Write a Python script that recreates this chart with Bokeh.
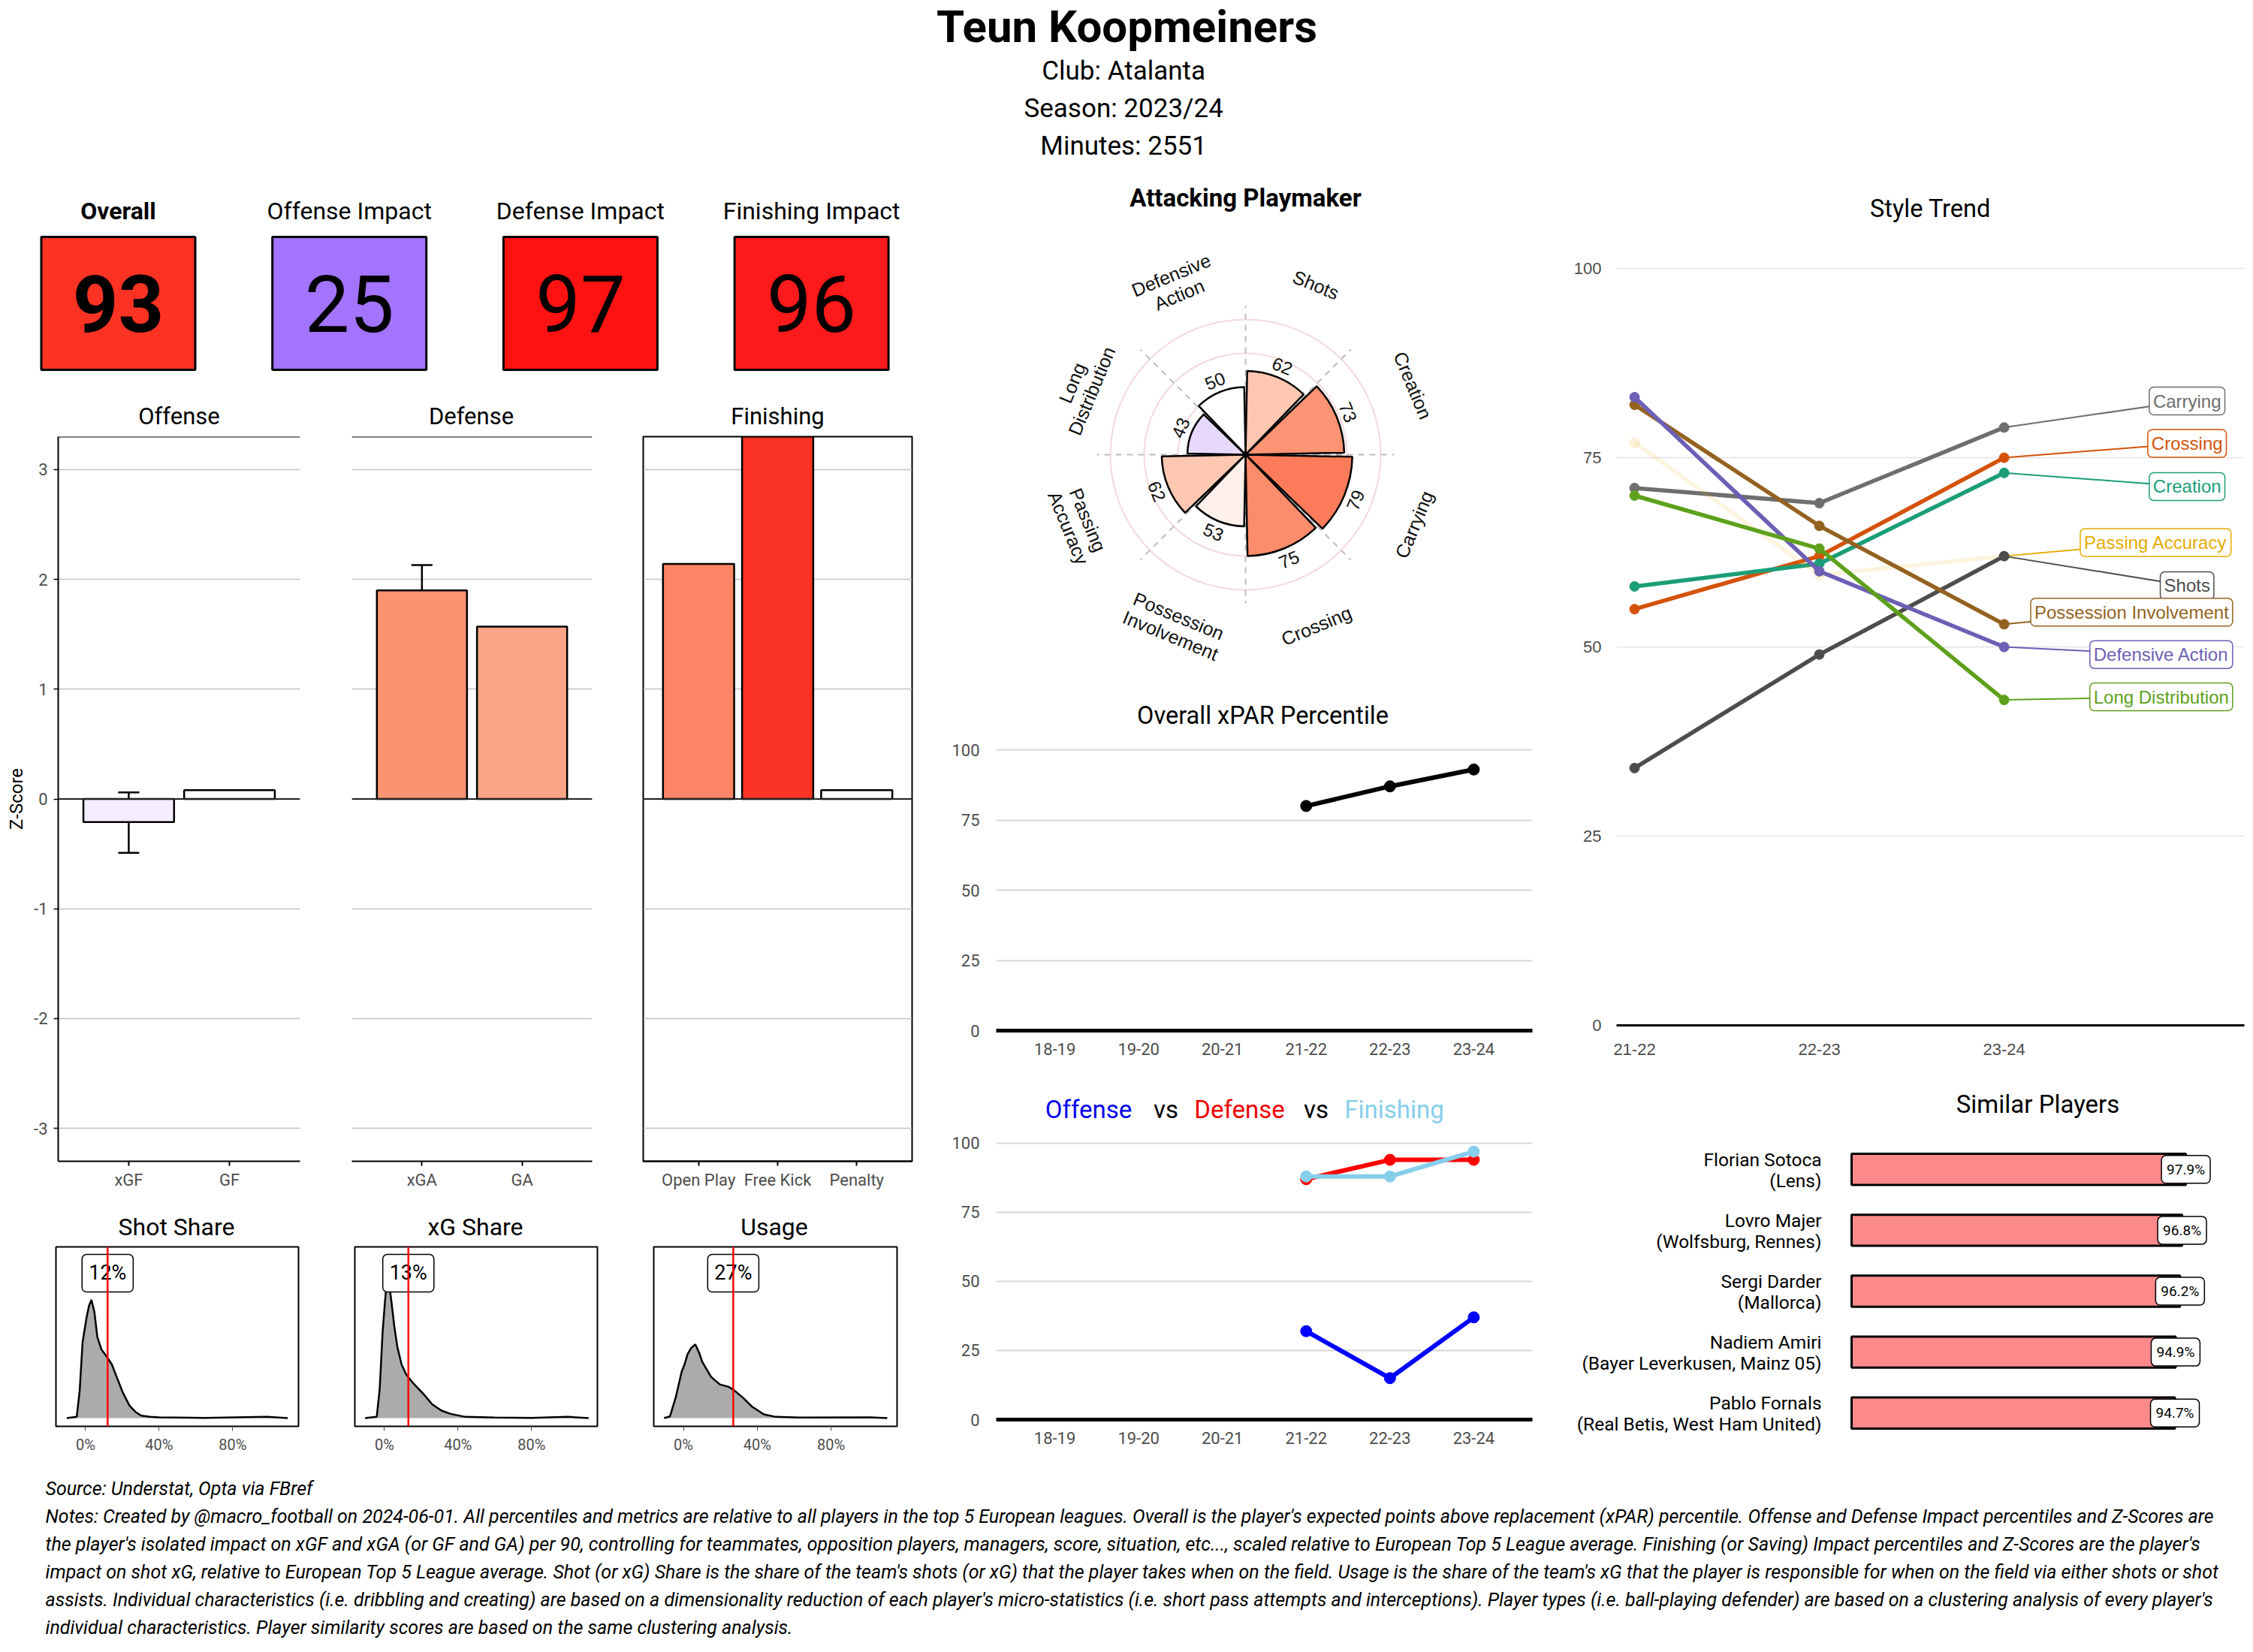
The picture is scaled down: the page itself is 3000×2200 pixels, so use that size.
import math
from bokeh.plotting import figure
from bokeh.models import ColumnDataSource, Range1d, FactorRange, FixedTicker, Span, Whisker, TeeHead
from bokeh.layouts import row, column
from bokeh.core.properties import value
from bokeh.embed import file_html
from bokeh.resources import INLINE

# ---------------- DATA ----------------
player_name = "Teun Koopmeiners"
club_name = "Atalanta"
season_name = "2023/24"
minutes_played = 2551

kpi_labels = ["Overall", "Offense Impact", "Defense Impact", "Finishing Impact"]
kpi_values = [93, 25, 97, 96]

offense_cats = ["xGF", "GF"]
offense_z = [-0.21, 0.08]
xgf_interval = [-0.49, 0.06]
defense_cats = ["xGA", "GA"]
defense_z = [1.90, 1.57]
xga_interval = [1.67, 2.13]
finishing_cats = ["Open Play", "Free Kick", "Penalty"]
finishing_z = [2.14, 3.90, 0.08]

share_titles = ["Shot Share", "xG Share", "Usage"]
share_values = [0.12, 0.13, 0.27]
shot_share_x = [-0.102, -0.048, -0.032, -0.016, 0.006, 0.019, 0.032, 0.048, 0.064, 0.086, 0.111,
                0.143, 0.169, 0.201, 0.239, 0.271, 0.303, 0.35, 0.398, 0.65, 0.987, 1.099]
shot_share_d = [0.0, 0.05, 1.1, 3.05, 4.05, 4.5, 4.73, 4.25, 3.25, 2.75, 2.5,
                2.15, 1.65, 1.05, 0.5, 0.25, 0.1, 0.05, 0.03, 0.01, 0.05, 0.0]
xg_share_x = [-0.105, -0.042, -0.026, -0.01, 0.006, 0.02, 0.038, 0.054, 0.07, 0.093, 0.118,
              0.15, 0.182, 0.214, 0.26, 0.31, 0.36, 0.44, 0.60, 0.80, 1.00, 1.11]
xg_share_d = [0.0, 0.05, 1.15, 3.45, 4.95, 5.70, 4.65, 3.65, 2.85, 2.15, 1.75,
              1.45, 1.20, 0.95, 0.55, 0.30, 0.17, 0.05, 0.02, 0.01, 0.05, 0.0]
usage_x = [-0.105, -0.073, -0.041, -0.01, 0.006, 0.022, 0.041, 0.064, 0.086, 0.102, 0.15,
           0.197, 0.245, 0.277, 0.325, 0.373, 0.436, 0.50, 0.627, 1.01, 1.105]
usage_d = [0.0, 0.07, 0.85, 1.85, 2.15, 2.55, 2.8, 2.95, 2.6, 2.25, 1.65,
           1.35, 1.25, 1.10, 0.80, 0.45, 0.15, 0.05, 0.02, 0.03, 0.0]

style_cats = ["Shots", "Creation", "Carrying", "Crossing", "Possession Involvement",
              "Passing Accuracy", "Long Distribution", "Defensive Action"]
style_pct = [62, 73, 79, 75, 53, 62, 43, 50]

seasons = ["18-19", "19-20", "20-21", "21-22", "22-23", "23-24"]
xpar_seasons = ["21-22", "22-23", "23-24"]
xpar_pct = [80, 87, 93]
offense_pct = [32, 15, 37]
defense_pct = [87, 94, 94]
finishing_pct = [88, 88, 97]

trend_seasons = ["21-22", "22-23", "23-24"]
trend_carrying = [71, 69, 79]
trend_crossing = [55, 62, 75]
trend_creation = [58, 61, 73]
trend_passing_accuracy = [77, 59.5, 62]
trend_shots = [34, 49, 62]
trend_possession_involvement = [82, 66, 53]
trend_defensive_action = [83, 60, 50]
trend_long_distribution = [70, 63, 43]

similar_names = ["Florian Sotoca", "Lovro Majer", "Sergi Darder", "Nadiem Amiri", "Pablo Fornals"]
similar_clubs = ["Lens", "Wolfsburg, Rennes", "Mallorca", "Bayer Leverkusen, Mainz 05", "Real Betis, West Ham United"]
similar_scores = [97.9, 96.8, 96.2, 94.9, 94.7]

source_note = "Source: Understat, Opta via FBref"
notes_lines = [
    "Notes: Created by @macro_football on 2024-06-01. All percentiles and metrics are relative to all players in the top 5 European leagues. Overall is the player's expected points above replacement (xPAR) percentile. Offense and Defense Impact percentiles and Z-Scores are",
    "the player's isolated impact on xGF and xGA (or GF and GA) per 90, controlling for teammates, opposition players, managers, score, situation, etc..., scaled relative to European Top 5 League average. Finishing (or Saving) Impact percentiles and Z-Scores are the player's",
    "impact on shot xG, relative to European Top 5 League average. Shot (or xG) Share is the share of the team's shots (or xG) that the player takes when on the field. Usage is the share of the team's xG that the player is responsible for when on the field via either shots or shot",
    "assists. Individual characteristics (i.e. dribbling and creating) are based on a dimensionality reduction of each player's micro-statistics (i.e. short pass attempts and interceptions). Player types (i.e. ball-playing defender) are based on a clustering analysis of every player's",
    "individual characteristics. Player similarity scores are based on the same clustering analysis.",
]

# ---------------- STYLES ----------------
FONT = "Roboto"
ARIAL = "Liberation Sans"
GREY = "#4D4D4D"
kpi_colors = ["#FC3323", "#A374FF", "#FE1212", "#FC1A1A"]
offense_colors = ["#F4EDFF", "#FFFBFA"]
defense_colors = ["#FA9372", "#FCA689"]
finishing_colors = ["#FB8566", "#FB3426", "#FFFBFA"]
style_colors = ["#FDC7B2", "#FB9474", "#FB7B5B", "#FB8C6C", "#FEF0EA", "#FDC7B2", "#E7D9FC", "#FFFFFF"]
style_label_r = [136, 134, 135, 137, 137, 134, 131, 136]
trend_series = [
    ("Carrying", trend_carrying, "#6E6E6E", 1.0, 2.99, 82.5),
    ("Crossing", trend_crossing, "#D4520A", 1.0, 2.99, 76.9),
    ("Creation", trend_creation, "#1B9E77", 1.0, 2.99, 71.2),
    ("Passing Accuracy", trend_passing_accuracy, "#E6AB02", 0.13, 2.82, 63.8),
    ("Shots", trend_shots, "#4D4D4D", 1.0, 2.99, 58.1),
    ("Possession Involvement", trend_possession_involvement, "#946220", 1.0, 2.69, 54.6),
    ("Defensive Action", trend_defensive_action, "#6C5FB5", 1.0, 2.85, 49.0),
    ("Long Distribution", trend_long_distribution, "#5EA01C", 1.0, 2.85, 43.4),
]


def fig(w, h, xr, yr, l=0, r=0, t=0, b=0, xloc="below", yloc="left"):
    p = figure(width=w, height=h, x_range=xr, y_range=yr, output_backend="svg",
               toolbar_location=None, min_border_left=l, min_border_right=r,
               min_border_top=t, min_border_bottom=b,
               x_axis_location=xloc, y_axis_location=yloc)
    p.frame_align = False
    p.outline_line_color = None
    p.background_fill_color = "white"
    p.border_fill_color = "white"
    return p


def text_panel(w, h):
    p = fig(w, h, Range1d(0, w), Range1d(0, h), xloc=None, yloc=None)
    p.grid.visible = False
    return p


def put(p, x, y, txt, size, color="black", style="normal", font=FONT, align="center"):
    p.text(x=[x], y=[y], text=[txt], text_font=value(font), text_font_size=f"{size}px",
           text_font_style=style, text_color=color, text_align=align, text_baseline="middle")


def axis_style(ax, size=22, font=FONT, color=GREY):
    ax.major_label_text_font = font
    ax.major_label_text_font_size = f"{size}px"
    ax.major_label_text_color = color
    ax.minor_tick_line_color = None


# ---------------- HEADER ----------------
header = text_panel(2996, 230)
put(header, 1500, 230 - 35, player_name, 60, style="bold")
put(header, 1500, 230 - 94, f"Club:  {club_name}", 35)
put(header, 1500, 230 - 144, f"Season:  {season_name}", 35)
put(header, 1500, 230 - 194, f"Minutes:  {minutes_played}", 35)

# ---------------- KPI TILES ----------------
kpi = fig(1240, 300, Range1d(-0.5102, 3.5196), Range1d(-0.7147, 0.9802), xloc=None, yloc=None)
kpi.grid.visible = False
kidx = list(range(len(kpi_values)))
kpi.rect(x=kidx, y=0, width=0.6662, height=1.0, fill_color=kpi_colors, line_color="black", line_width=3)
for i, (lab, v) in enumerate(zip(kpi_labels, kpi_values)):
    stl = "bold" if i == 0 else "normal"
    kpi.text(x=[i], y=[0.6977], text=[lab], text_font=value(FONT), text_font_size="32px",
             text_font_style=stl, text_align="center", text_baseline="middle")
    kpi.text(x=[i], y=[0.0], text=[str(v)], text_font=value(FONT), text_font_size="106px",
             text_font_style=stl, text_align="center", text_baseline="middle")

# ---------------- Z-SCORE BARS ----------------
bars_title = text_panel(1240, 42)
put(bars_title, 238, 18, "Offense", 31)
put(bars_title, 627, 18, "Defense", 31)
put(bars_title, 1035, 18, "Finishing", 31)


def bar_panel(w, l, r, cats, vals, colors, show_y, interval=None):
    p = fig(w, 1028, FactorRange(factors=cats, range_padding=0.2, range_padding_units="absolute"),
            Range1d(-3.3, 3.3), l=l, r=r, t=9, b=54, yloc="left" if show_y else None)
    p.xgrid.visible = False
    p.ygrid.ticker = FixedTicker(ticks=[-3, -2, -1, 0, 1, 2, 3])
    p.ygrid.grid_line_color = "#C2C2C2"
    p.ygrid.grid_line_width = 1.5
    p.vbar(x=cats, top=vals, bottom=0, width=0.9, fill_color=colors, line_color="black", line_width=2.5)
    if interval is not None:
        src = ColumnDataSource(dict(base=[cats[0]], lower=[interval[0]], upper=[interval[1]]))
        p.add_layout(Whisker(source=src, base="base", lower="lower", upper="upper",
                             line_color="black", line_width=2.5,
                             upper_head=TeeHead(size=28, line_width=2.5, line_color="black"),
                             lower_head=TeeHead(size=28, line_width=2.5, line_color="black")))
    p.add_layout(Span(location=0, dimension="width", line_color="#222222", line_width=2))
    xa = p.xaxis[0]
    axis_style(xa)
    xa.axis_line_color = "black"
    xa.axis_line_width = 2
    xa.major_tick_out = 6
    xa.major_tick_in = 0
    xa.major_tick_line_width = 2
    xa.major_label_standoff = 6
    if show_y:
        ya = p.yaxis[0]
        ya.ticker = FixedTicker(ticks=[-3, -2, -1, 0, 1, 2, 3])
        ya.major_label_overrides = {t: str(t) for t in [-3, -2, -1, 0, 1, 2, 3]}
        axis_style(ya)
        ya.axis_line_color = "black"
        ya.axis_line_width = 2
        ya.major_tick_out = 6
        ya.major_tick_in = 0
        ya.major_tick_line_width = 1.5
        ya.major_label_standoff = 8
        ya.axis_label = "Z-Score"
        ya.axis_label_text_font = FONT
        ya.axis_label_text_font_size = "24px"
        ya.axis_label_text_font_style = "normal"
        ya.axis_label_text_color = "black"
        ya.axis_label_standoff = 6
    return p


off_fig = bar_panel(433, 77, 34, offense_cats, offense_z, offense_colors, True, xgf_interval)
off_fig.add_layout(Span(location=3.3, dimension="width", line_color="black", line_width=2))
def_fig = bar_panel(389, 35, 34, defense_cats, defense_z, defense_colors, False, xga_interval)
def_fig.add_layout(Span(location=3.3, dimension="width", line_color="black", line_width=2))
fin_fig = bar_panel(418, 34, 26, finishing_cats, finishing_z, finishing_colors, False)
fin_fig.outline_line_color = "black"
fin_fig.outline_line_width = 2

# ---------------- DENSITIES ----------------
dens_title = text_panel(1240, 56)
for cx, t in zip([234.5, 632.5, 1030.5], share_titles):
    put(dens_title, cx, 23, t, 32)


def dens_panel(w, l, r, xs, ds, v):
    p = fig(w, 294, Range1d(-0.161, 1.158), Range1d(-0.33, 6.85), l=l, r=r, t=4, b=51, yloc=None)
    p.grid.visible = False
    p.outline_line_color = "black"
    p.outline_line_width = 2
    p.varea(x=xs, y1=0, y2=ds, fill_color="#ABABAB")
    p.line(x=xs, y=ds, line_color="black", line_width=2.5)
    p.add_layout(Span(location=v, dimension="height", line_color="#FF0000", line_width=2.5))
    p.text(x=[v], y=[5.8], text=[f"{round(v * 100)}%"], text_font=value(FONT), text_font_size="27px",
           text_align="center", text_baseline="middle", background_fill_color="white",
           border_line_color="black", border_line_width=1.5, padding=9, border_radius=6)
    xa = p.xaxis[0]
    xa.ticker = FixedTicker(ticks=[0, 0.4, 0.8])
    xa.major_label_overrides = {0: "0%", 0.4: "40%", 0.8: "80%"}
    axis_style(xa, 20)
    xa.axis_line_color = None
    xa.major_tick_out = 6
    xa.major_tick_in = 0
    xa.major_tick_line_color = GREY
    xa.major_label_standoff = 6
    return p


d1 = dens_panel(434, 74, 37, shot_share_x, shot_share_d, share_values[0])
d2 = dens_panel(399, 38, 38, xg_share_x, xg_share_d, share_values[1])
d3 = dens_panel(407, 37, 46, usage_x, usage_d, share_values[2])

left_col = column(kpi, bars_title, row(off_fig, def_fig, fin_fig), dens_title, row(d1, d2, d3))

# ---------------- POLAR ----------------
polar_title = text_panel(840, 60)
put(polar_title, 418, 27, "Attacking Playmaker", 33, style="bold")

pol = fig(840, 610, Range1d(-232.2, 234.4), Range1d(-163.9, 175.0), xloc=None, yloc=None)
pol.grid.visible = False
rings = [25, 50, 75, 100]
pol.circle(x=[0] * len(rings), y=[0] * len(rings), radius=rings, fill_color=None,
           line_color="#F3D9DA", line_width=2)
spokes = [45 * k for k in range(8)]
pol.segment(x0=0, y0=0, x1=[110 * math.sin(math.radians(a)) for a in spokes],
            y1=[110 * math.cos(math.radians(a)) for a in spokes],
            line_color="#BDBDBD", line_width=2, line_dash="8 7")
n = len(style_cats)
step = 360 / n
centers = [step / 2 + step * i for i in range(n)]
half = step * 0.95 / 2
pol.wedge(x=0, y=0, radius=style_pct,
          start_angle=[math.radians(90 - (c + half)) for c in centers],
          end_angle=[math.radians(90 - (c - half)) for c in centers],
          fill_color=style_colors, line_color="black", line_width=2.5)


def tangent_rot(th):
    if th < 90:
        a = -th
    elif th < 270:
        a = 180 - th
    else:
        a = 360 - th
    return math.radians(a)


rots = [tangent_rot(c) for c in centers]
rl = [v + 9 for v in style_pct]
pol.text(x=[r * math.sin(math.radians(c)) for r, c in zip(rl, centers)],
         y=[r * math.cos(math.radians(c)) for r, c in zip(rl, centers)],
         text=[str(v) for v in style_pct], angle=rots, text_font=value(ARIAL), text_font_size="24px",
         text_align="center", text_baseline="middle", text_color="#111111")
lx, ly, lt, la, lxo, lyo = [], [], [], [], [], []
line_h = 28
for name, c, a, r in zip(style_cats, centers, rots, style_label_r):
    parts = name.split(" ")
    for k, part in enumerate(parts):
        off = (k - (len(parts) - 1) / 2) * line_h
        lx.append(r * math.sin(math.radians(c)))
        ly.append(r * math.cos(math.radians(c)))
        lt.append(part)
        la.append(a)
        lxo.append(off * math.sin(a))
        lyo.append(off * math.cos(a))
pol.text(x=lx, y=ly, text=lt, angle=la, x_offset=lxo, y_offset=lyo, text_font=value(ARIAL),
         text_font_size="25px", text_align="center", text_baseline="middle", text_color="#111111")

# ---------------- xPAR & OvD ----------------
xpar_title = text_panel(840, 80)
put(xpar_title, 441, 27.5, "Overall xPAR Percentile", 32.5)


def pct_panel(h, t, b, ymax):
    p = fig(840, h, FactorRange(factors=seasons, range_padding=0.2, range_padding_units="absolute"),
            Range1d(0, ymax), l=86, r=40, t=t, b=b)
    p.xgrid.visible = False
    p.ygrid.ticker = FixedTicker(ticks=[0, 25, 50, 75, 100])
    p.ygrid.grid_line_color = "#D6D6D6"
    p.ygrid.grid_line_width = 2
    xa = p.xaxis[0]
    axis_style(xa, 22)
    xa.axis_line_color = "black"
    xa.axis_line_width = 5
    xa.major_tick_line_color = None
    xa.major_label_standoff = 10
    ya = p.yaxis[0]
    ya.ticker = FixedTicker(ticks=[0, 25, 50, 75, 100])
    axis_style(ya, 22)
    ya.axis_line_color = None
    ya.major_tick_line_color = None
    ya.major_label_standoff = 16
    return p


xpar_fig = pct_panel(440, 5, 48, 103.5)
xpar_fig.line(x=xpar_seasons, y=xpar_pct, line_color="black", line_width=6)
xpar_fig.scatter(x=xpar_seasons, y=xpar_pct, size=15, color="black")

ovd_title = text_panel(840, 85)
for cx, word, col in zip([209, 312, 410, 512, 616],
                         ["Offense", "vs", "Defense", "vs", "Finishing"],
                         ["#0000EE", "black", "#EE0000", "black", "#87CEEB"]):
    put(ovd_title, cx, 28.5, word, 33, color=col)

ovd_fig = pct_panel(445, 3, 60, 103.8)
for vals, col in [(offense_pct, "#0000FF"), (defense_pct, "#FF0000"), (finishing_pct, "#87CEEB")]:
    ovd_fig.line(x=xpar_seasons, y=vals, line_color=col, line_width=6)
    ovd_fig.scatter(x=xpar_seasons, y=vals, size=15, color=col)

mid_col = column(polar_title, pol, xpar_title, xpar_fig, ovd_title, ovd_fig)

# ---------------- STYLE TREND ----------------
style_title = text_panel(916, 80)
put(style_title, 490, 32.5, "Style Trend", 32.5)

st = fig(916, 1130, Range1d(-0.0976, 3.30), Range1d(0, 101.7), l=72, r=8, t=30, b=75)
st.xgrid.visible = False
st.ygrid.ticker = FixedTicker(ticks=[0, 25, 50, 75, 100])
st.ygrid.grid_line_color = "#E2E2E2"
st.ygrid.grid_line_width = 1.5
tx = list(range(len(trend_seasons)))
for name, vals, col, alpha, lbx, lby in trend_series:
    st.line(x=[tx[-1], lbx], y=[vals[-1], lby], line_color=col, line_width=2)
for name, vals, col, alpha, lbx, lby in trend_series:
    st.line(x=tx, y=vals, line_color=col, line_width=5.5, line_alpha=alpha)
    st.scatter(x=tx, y=vals, size=13, color=col, alpha=alpha)
for name, vals, col, alpha, lbx, lby in trend_series:
    st.text(x=[lbx], y=[lby], text=[name], text_font=value(ARIAL), text_font_size="24px",
            text_color=col, text_align="center", text_baseline="middle",
            background_fill_color="white", border_line_color=col, border_line_width=1.5,
            padding=5, border_radius=6)
sxa = st.xaxis[0]
sxa.ticker = FixedTicker(ticks=tx)
sxa.major_label_overrides = {i: s for i, s in enumerate(trend_seasons)}
axis_style(sxa, 22, ARIAL)
sxa.axis_line_color = "black"
sxa.axis_line_width = 3
sxa.major_tick_line_color = None
sxa.major_label_standoff = 18
sya = st.yaxis[0]
sya.ticker = FixedTicker(ticks=[0, 25, 50, 75, 100])
axis_style(sya, 22, ARIAL)
sya.axis_line_color = None
sya.major_tick_line_color = None
sya.major_label_standoff = 14

# ---------------- SIMILAR PLAYERS ----------------
sim_title = text_panel(916, 60)
put(sim_title, 633, 30, "Similar Players", 33)

sim = fig(916, 450, Range1d(-84.7, 116.8),
          FactorRange(factors=similar_names[::-1], range_padding=0.2, range_padding_units="absolute"),
          b=12, xloc=None, yloc=None)
sim.grid.visible = False
sim.hbar(y=similar_names, left=0, right=similar_scores, height=0.51, fill_color="#FC8A8A",
         line_color="black", line_width=3)
sim.text(x=[-8.8] * len(similar_names), y=similar_names, text=similar_names, y_offset=-13,
         text_font=value(FONT), text_font_size="24.5px", text_align="right", text_baseline="middle")
sim.text(x=[-8.8] * len(similar_names), y=similar_names, text=[f"({c})" for c in similar_clubs],
         y_offset=15, text_font=value(FONT), text_font_size="24.5px", text_align="right",
         text_baseline="middle")
sim.text(x=similar_scores, y=similar_names, text=[f"{s}%" for s in similar_scores],
         text_font=value(FONT), text_font_size="19px", text_align="center", text_baseline="middle",
         background_fill_color="white", border_line_color="black", border_line_width=1.5,
         padding=7, border_radius=6)

right_col = column(style_title, st, sim_title, sim)

# ---------------- NOTES ----------------
notes = text_panel(2996, 246)
put(notes, 60, 246 - 32, source_note, 25, style="italic", align="left")
for i, line in enumerate(notes_lines):
    put(notes, 60, 246 - (69 + 37 * i), line, 25, style="italic", align="left")

page = column(header, row(left_col, mid_col, right_col), notes)
open("out.html", "w").write(file_html(page, INLINE))
